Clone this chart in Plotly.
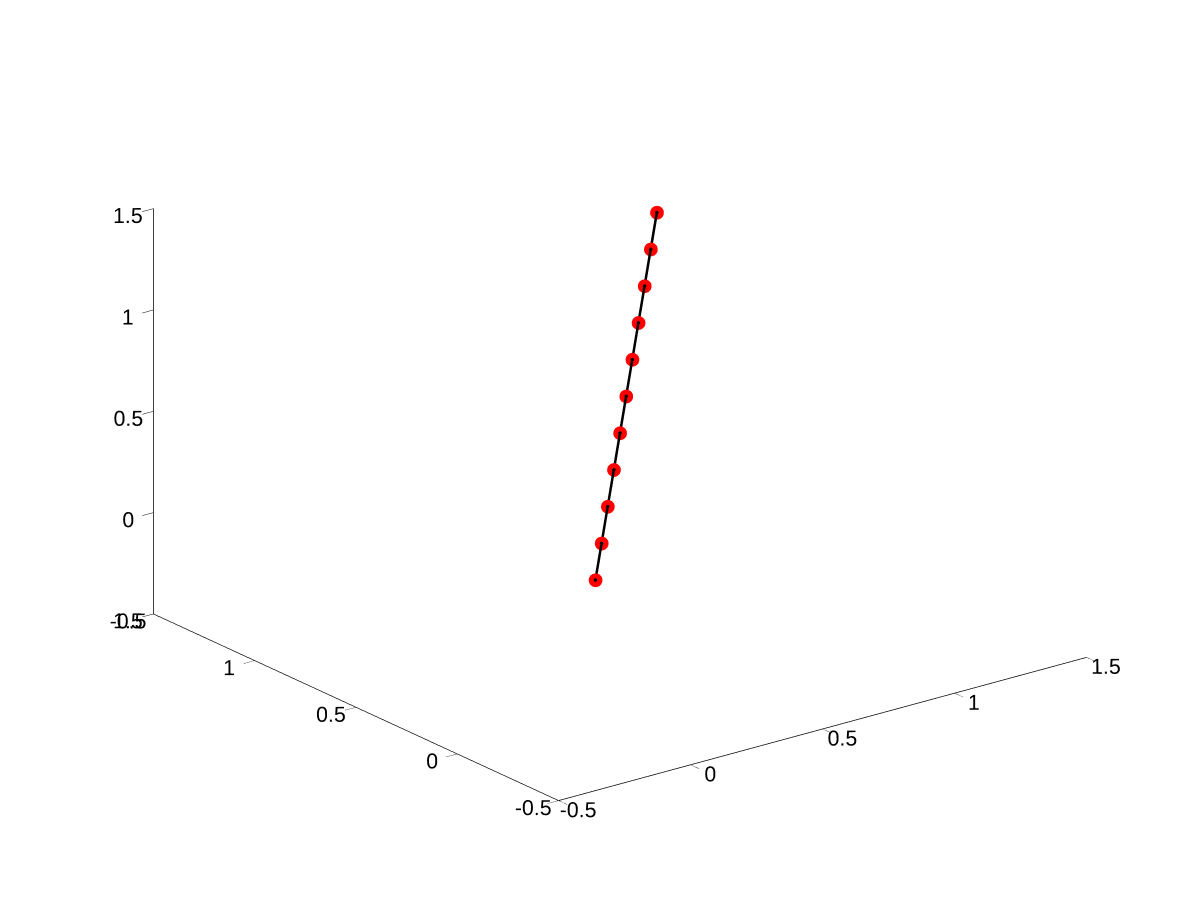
import plotly.graph_objects as go
import math

# Data: points along the diagonal
x_vals = [0.1, 0.2, 0.3, 0.4, 0.5, 0.6, 0.7, 0.8, 0.9, 1.0, 1.1]
y_vals = [0.1, 0.2, 0.3, 0.4, 0.5, 0.6, 0.7, 0.8, 0.9, 1.0, 1.1]
z_vals = [0.1, 0.2, 0.3, 0.4, 0.5, 0.6, 0.7, 0.8, 0.9, 1.0, 1.1]
tick_vals = [-0.5, 0, 0.5, 1, 1.5]
tick_text = ["-0.5", "0", "0.5", "1", "1.5"]
axis_range = [-0.5, 1.5]

fig = go.Figure()
fig.add_trace(go.Scatter3d(x=x_vals, y=y_vals, z=z_vals, mode="markers",
                           marker=dict(size=8, color="#ff0000", line=dict(width=0)),
                           showlegend=False, hoverinfo="skip"))
fig.add_trace(go.Scatter3d(x=x_vals, y=y_vals, z=z_vals, mode="lines+markers",
                           line=dict(color="black", width=5),
                           marker=dict(size=2, color="black"),
                           showlegend=False, hoverinfo="skip"))

az = math.radians(37.5)
el = math.radians(20.7)
r = 2.0
eye = dict(x=-math.sin(az) * math.cos(el) * r,
           y=-math.cos(az) * math.cos(el) * r,
           z=math.sin(el) * r)

def axis(ticklen):
    return dict(range=axis_range, tickvals=tick_vals, ticktext=tick_text,
                showgrid=False, showbackground=False, zeroline=False,
                showline=True, linecolor="black", linewidth=1.5,
                ticks="outside", ticklen=ticklen, tickwidth=1, tickcolor="black",
                tickangle=0,
                tickfont=dict(family="Liberation Sans, Arial", size=16, color="black"),
                title=dict(text=""), showspikes=False, autorange=False)

s = 1.566
fig.update_layout(
    width=1200, height=900,
    paper_bgcolor="white", plot_bgcolor="white",
    margin=dict(l=0, r=0, t=0, b=0),
    scene=dict(
        domain=dict(x=[0.02, 1.0], y=[0.0556, 1.0]),
        xaxis=axis(14), yaxis=axis(14), zaxis=axis(8),
        aspectmode="manual", aspectratio=dict(x=1 * s, y=1 * s, z=0.651 * s),
        camera=dict(eye=eye, up=dict(x=0, y=0, z=1), center=dict(x=0, y=0, z=0),
                    projection=dict(type="orthographic")),
    ),
)

fig.write_html("out.html")
